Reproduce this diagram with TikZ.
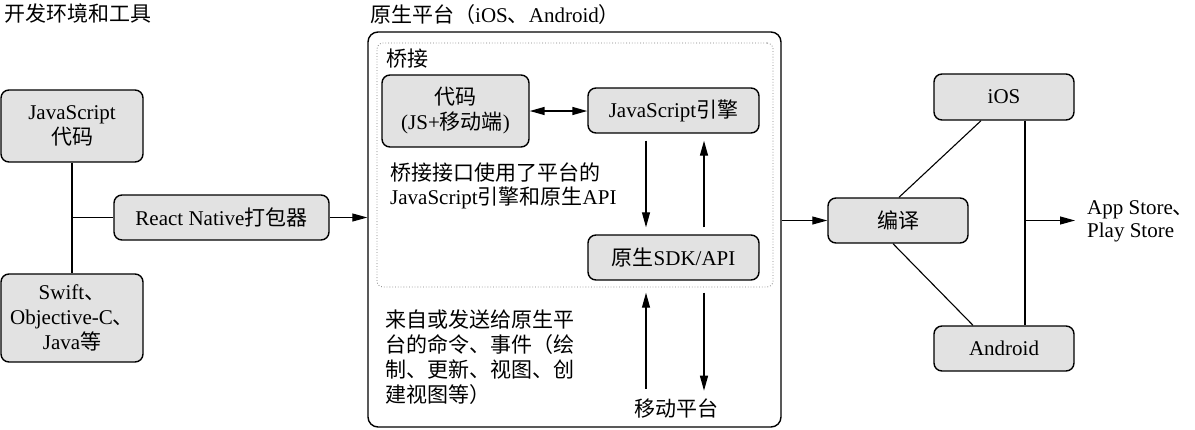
\documentclass[tikz,border=0pt]{standalone}
\usepackage{fontspec}
\setmainfont{Liberation Serif}
\newfontfamily\cjk{Noto Sans CJK SC}
\newcommand\zh[1]{{\cjk #1}}
\usetikzlibrary{arrows.meta}
\definecolor{boxgray}{HTML}{E2E2E2}
\tikzset{
  box/.style={draw, line width=1.4pt, rounded corners=8pt, fill=boxgray, align=center, inner sep=0pt},
  conn/.style={line width=1.1pt},
  arr/.style={conn, -{Triangle[length=15pt,width=8pt]}},
  dblarr/.style={conn, line width=1.5pt, {Triangle[length=15pt,width=8pt]}-{Triangle[length=15pt,width=8pt]}},
  lbl/.style={inner sep=0pt, align=left},
}
\begin{document}
\begin{tikzpicture}[x=1pt, y=-1pt, font=\fontsize{21}{25}\selectfont]
\useasboundingbox (0,0) rectangle (1195,429);
% development side
\node[lbl, anchor=base west] (devtitle) at (4,21) {\zh{开发环境和工具}};
\node[box, minimum width=142, minimum height=72] (jscode) at (72,126) {JavaScript\\\zh{代码}};
\node[box, minimum width=142, minimum height=88] (native) at (72,318) {Swift\zh{、}\\Objective-C\zh{、}\\Java\zh{等}};
\node[box, minimum width=215, minimum height=45] (packer) at (221.5,217.5) {React Native\zh{打包器}};
\coordinate (fork) at (jscode.south |- packer.west);
\draw[conn, line width=1.5pt] (jscode.south) -- (native.north);
\draw[conn, line width=1.5pt] (fork) -- (packer.west);

% platform
\node[draw, line width=1.4pt, rounded corners=10pt, minimum width=413, minimum height=395] (platform) at (574.5,229.5) {};
\node[lbl, anchor=base west] (plattitle) at (370,22) {\zh{原生平台（}iOS\zh{、}Android\zh{）}};
\node[draw, dotted, gray, line width=0.8pt, rounded corners=6pt, minimum width=396, minimum height=244] (bridge) at (575,165) {};
\node[lbl, anchor=base west] (bridgetitle) at (386,66) {\zh{桥接}};
\node[box, minimum width=147, minimum height=72] (code) at (455.5,111) {\zh{代码}\\(JS+\zh{移动端})};
\node[box, minimum width=171, minimum height=45] (engine) at (673.5,110.5) {JavaScript\zh{引擎}};
\node[box, minimum width=171, minimum height=45] (sdk) at (673.5,257.5) {\zh{原生}SDK/API};
\node[lbl, anchor=north west, font=\fontsize{21}{23.5}\selectfont] (bridgenote) at (390,163) {\zh{桥接接口使用了平台的}\\JavaScript\zh{引擎和原生}API};
\node[lbl, anchor=north west] (events) at (385,310) {\zh{来自或发送给原生平}\\\zh{台的命令、事件（绘}\\\zh{制、更新、视图、创}\\\zh{建视图等）}};
\node[lbl, anchor=base] (mobile) at (676,416) {\zh{移动平台}};
\draw[arr] (packer.east) -- (packer.east -| platform.west);
\draw[dblarr] (code.east) -- (code.east -| engine.west);
\draw[arr] ([xshift=-27.5pt,yshift=-7pt]engine.south) -- ([xshift=-27.5pt,yshift=7pt]sdk.north);
\draw[arr, line width=1.4pt] ([xshift=30.5pt,yshift=7pt]sdk.north) -- ([xshift=30.5pt,yshift=-7pt]engine.south);
\draw[arr] ([xshift=-27.5pt,yshift=-108pt]sdk.south) -- ([xshift=-27.5pt,yshift=-12pt]sdk.south);
\draw[arr, line width=1.4pt] ([xshift=30.5pt,yshift=-12pt]sdk.south) -- ([xshift=30.5pt,yshift=-110pt]sdk.south);

% build and stores
\node[box, minimum width=140, minimum height=45] (compile) at (898,220.5) {\zh{编译}};
\node[box, minimum width=140, minimum height=46] (ios) at (1004,97) {iOS};
\node[box, minimum width=140, minimum height=45] (android) at (1004,348.5) {Android};
\node[lbl, anchor=north west, font=\fontsize{21}{23}\selectfont] (stores) at (1087,200) {App Store\zh{、}\\Play Store};
\draw[arr] (platform.east |- compile.west) -- (compile.west);
\draw[conn] ([xshift=1pt]compile.north) -- ([xshift=-23pt]ios.south);
\draw[conn] ([xshift=-5pt]compile.south) -- ([xshift=-31pt]android.north);
\path ([xshift=21pt]ios.south) coordinate (iosfoot);
\path ([xshift=21pt]android.north) coordinate (androidhead);
\draw[conn] (iosfoot) -- (androidhead);
\coordinate (split) at (iosfoot |- compile.east);
\coordinate (storetip) at (1075,220);
\draw[arr] (split) -- (split -| storetip);
\end{tikzpicture}
\end{document}
